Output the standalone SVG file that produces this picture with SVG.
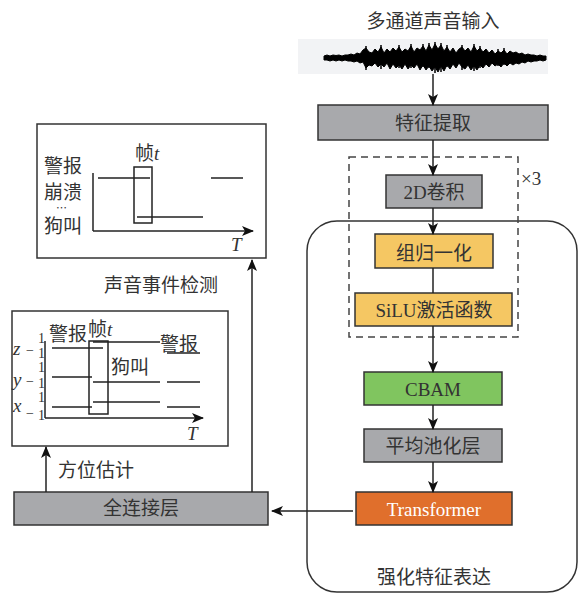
<svg xmlns="http://www.w3.org/2000/svg" width="588" height="594" viewBox="0 0 588 594">
<defs>
<marker id="ah" viewBox="0 0 12 10" refX="11" refY="5" markerWidth="12" markerHeight="10" markerUnits="userSpaceOnUse" orient="auto">
<path d="M0,0 L12,5 L0,10 L3,5 z" fill="#111"/>
</marker>
<style>
text{font-family:"Liberation Serif","Noto Sans CJK SC",serif;fill:#333;}
.t{font-size:19px;text-anchor:middle;}
.l{font-size:19px;}
.s{font-size:14px;}
.box{stroke:#333;stroke-width:1.5;}
.gray{fill:#a8a9ac;}
.yel{fill:#f5c763;}
.grn{fill:#80c55f;}
.org{fill:#e06f2c;}
.ln{stroke:#222;stroke-width:1.5;fill:none;}
.ar{stroke:#222;stroke-width:1.5;fill:none;marker-end:url(#ah);}
.fr{fill:#fff;stroke:#333;stroke-width:1.5;}
.it{font-style:italic;}
</style>
</defs>
<rect width="588" height="594" fill="#fff"/>

<g id="input">
<text class="t" x="433" y="28">多通道声音输入</text>
<rect x="298" y="39" width="250" height="35" fill="#f2f3f5"/>
<path fill="#000" stroke="#000" stroke-width="1" stroke-linejoin="round" d="M324,56 L327,55 L330,56 L333,55 L336,55.5 L339,55 L342,56 L345,55 L348,55 L351,54 L354,55 L357,53 L360,54 L363,50 L366,48 L369,52 L372,53 L375,49 L378,52 L381,47 L384,53 L387,49 L390,52 L393,48 L396,51 L399,47 L402,52 L405,49 L408,51 L411,46 L414,52 L417,48 L420,50 L423,46 L426,51 L429,45 L432,50 L435,44 L438,49 L441,45 L444,51 L447,47 L450,52 L453,48 L456,53 L459,49 L462,47 L465,51 L468,48 L471,52 L474,46 L477,51 L480,48 L483,52 L486,49 L489,53 L492,50 L495,54 L498,51 L501,53 L504,50 L507,54 L510,51 L513,53 L516,52 L519,54 L522,53 L525,55 L528,54 L531,55 L534,55 L537,56 L540,55 L543,56 L546,56 L546,60 L543,61 L540,60 L537,61 L534,61 L531,62 L528,61 L525,63 L522,62 L519,64 L516,63 L513,65 L510,63 L507,66 L504,63 L501,67 L498,64 L495,66 L492,63 L489,67 L486,64 L483,68 L480,65 L477,70 L474,66 L471,70 L468,65 L465,69 L462,67 L459,63 L456,68 L453,64 L450,69 L447,65 L444,71 L441,66 L438,72 L435,67 L432,71 L429,66 L426,70 L423,65 L420,70 L417,64 L414,68 L411,65 L408,69 L405,64 L402,69 L399,65 L396,68 L393,64 L390,69 L387,63 L384,67 L381,64 L378,67 L375,63 L372,66 L369,65 L366,68 L363,62 L360,63 L357,61 L354,62 L351,61 L348,61 L345,60 L342,61 L339,60 L336,61 L333,60 L330,61 L327,60 L324,60 z"/>
<path stroke="#000" stroke-width="1.5" d="M366,46 V70 M381,45 V69 M399,45 V68 M411,44 V68 M423,44 V67 M429,43 V68 M435,42 V73 M441,43 V72 M447,45 V67 M462,45 V70 M474,44 V71 M480,46 V68 M498,49 V66 M504,48 V65"/>
</g>

<g id="enhance">
<rect x="307" y="221" width="270" height="371" rx="30" ry="30" fill="none" stroke="#333" stroke-width="1.5"/>
<text class="t" x="434" y="584">强化特征表达</text>
</g>

<g id="repeat">
<rect x="349" y="157" width="169" height="180" fill="none" stroke="#444" stroke-width="1.5" stroke-dasharray="7,5"/>
<text class="l" x="521" y="185" font-size="18">×3</text>
</g>

<g id="feat">
<rect class="box gray" x="318" y="105" width="230" height="35"/>
<text class="t" x="433" y="130">特征提取</text>
</g>

<g id="conv">
<rect class="box gray" x="386" y="175" width="96" height="33"/>
<text class="t" x="434" y="199">2D卷积</text>
</g>

<g id="gn">
<rect class="box yel" x="375" y="234" width="118" height="34"/>
<text class="t" x="434" y="260">组归一化</text>
</g>

<g id="silu">
<rect class="box yel" x="355" y="293" width="157" height="33"/>
<text class="t" x="434" y="317">SiLU激活函数</text>
</g>

<g id="cbam">
<rect class="box grn" x="364" y="372" width="138" height="33"/>
<text class="t" x="433" y="396">CBAM</text>
</g>

<g id="pool">
<rect class="box gray" x="364" y="429" width="138" height="33"/>
<text class="t" x="433" y="453">平均池化层</text>
</g>

<g id="transformer">
<rect class="box org" x="356" y="492" width="156" height="33"/>
<text class="t" x="434" y="516" style="fill:#fff">Transformer</text>
</g>

<g id="fc">
<rect class="box gray" x="14" y="492" width="254" height="33"/>
<text class="t" x="141" y="515">全连接层</text>
</g>

<g id="sed">
<rect class="fr" x="37" y="124" width="229" height="134"/>
<text class="l" x="44" y="173">警报</text>
<text class="l" x="44" y="199">崩溃</text>
<text x="56" y="212" font-size="11">⋯</text>
<text class="l" x="44" y="233">狗叫</text>
<path class="ln" d="M93,173 L93,231"/>
<path class="ar" d="M93,231 L253,231"/>
<text class="l it" x="231" y="251">T</text>
<path class="ln" d="M98,178 L150,178 M211,178 L243,178 M137,217 L203,217"/>
<rect x="134" y="167" width="18" height="56" fill="none" stroke="#222" stroke-width="1.5"/>
<text class="l" x="135" y="160">帧<tspan class="it">t</tspan></text>
</g>
<text class="l" x="104" y="292">声音事件检测</text>

<g id="doa">
<rect class="fr" x="12" y="311" width="216" height="135"/>
<text class="l" x="49" y="341" font-size="16">警报</text>
<text class="l" x="88" y="336" font-size="17">帧<tspan class="it">t</tspan></text>
<text class="l" x="160" y="351">警报</text>
<text class="l" x="111" y="374">狗叫</text>
<text class="s" x="38" y="343">1</text>
<text class="l it" x="13" y="355" font-size="18">z</text>
<text class="s" x="26" y="355">−</text>
<text class="s" x="38" y="358">1</text>
<text class="s" x="38" y="372">1</text>
<text class="l it" x="13" y="386" font-size="18">y</text>
<text class="s" x="26" y="386">−</text>
<text class="s" x="38" y="388">1</text>
<text class="s" x="38" y="402">1</text>
<text class="l it" x="13" y="412" font-size="18">x</text>
<text class="s" x="26" y="418">−</text>
<text class="s" x="38" y="420">1</text>
<path class="ln" d="M45,341 L45,418"/>
<path class="ar" d="M45,418 L203,418"/>
<text class="l it" x="187" y="440">T</text>
<path class="ln" d="M52,348 L103,348 M93,342 L160,342 M167,353 L200,353 M52,377 L92,377 M93,382 L160,382 M167,382 L200,382 M52,407 L92,407 M93,402 L160,402 M167,407 L200,407"/>
<rect x="89" y="341" width="19" height="73" fill="none" stroke="#222" stroke-width="1.5"/>
</g>
<text class="l" x="58" y="477">方位估计</text>

<g id="connectors">
<path class="ar" d="M433,74 L433,105"/>
<path class="ar" d="M433,140 L433,175"/>
<path class="ar" d="M433,208 L433,234"/>
<path class="ln" d="M433,268 L433,293"/>
<path class="ar" d="M433,326 L433,372"/>
<path class="ar" d="M433,405 L433,429"/>
<path class="ar" d="M433,462 L433,492"/>
<path class="ar" d="M353,511 L272,511"/>
<path class="ar" d="M46,492 L46,447"/>
<path class="ar" d="M252,492 L252,260"/>
</g>
</svg>
